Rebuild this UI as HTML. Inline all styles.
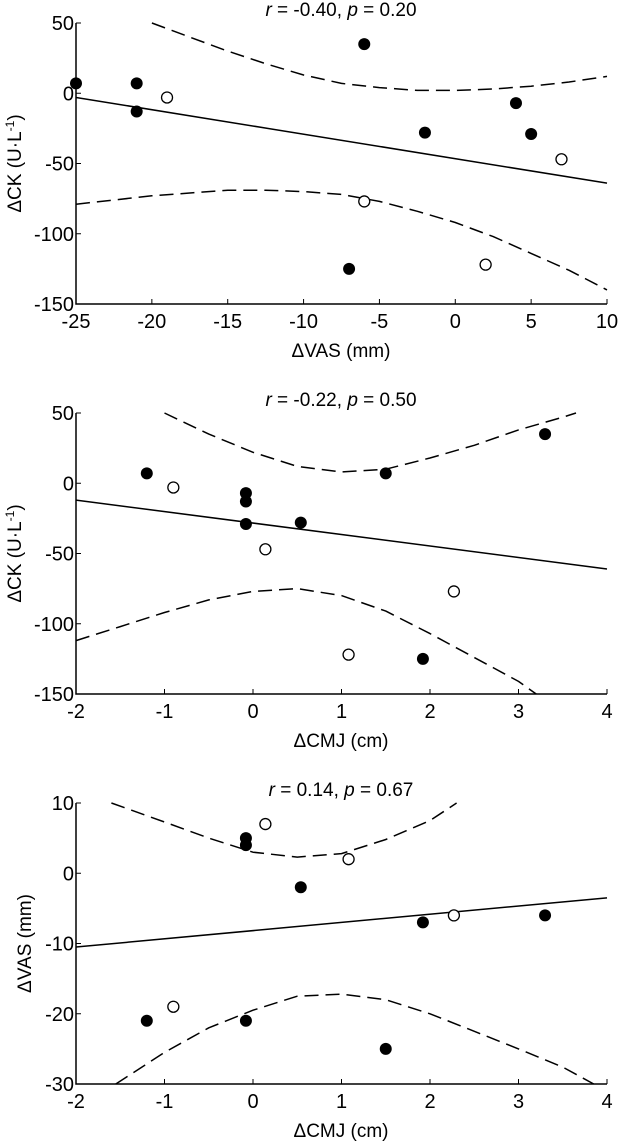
<!DOCTYPE html>
<html><head><meta charset="utf-8"><style>
body{margin:0;background:#fff;}
svg{display:block;font-family:"Liberation Sans",sans-serif;}
</style></head><body>
<svg id="fig" width="620" height="1144" viewBox="0 0 620 1144" xmlns="http://www.w3.org/2000/svg"></svg>
<script>
// Panel 1: dVAS vs dCK
const p1FilledX=[-25,-21,-21,-6,-2,4,5,-7];
const p1FilledY=[7,7,-13,35,-28,-7,-29,-125];
const p1OpenX=[-19,7,-6,2];
const p1OpenY=[-3,-47,-77,-122];
const p1FitX=[-25,10];
const p1FitY=[-3,-64];
const p1UpX=[-20,-17.5,-15,-12.5,-10,-7.5,-5,-2.5,0,2.5,5,7.5,10];
const p1UpY=[50,40,30,21,13,7,4,2,2,3,5,8,12];
const p1LoX=[-25,-22.5,-20,-17.5,-15,-12.5,-10,-7.5,-5,-2.5,0,2.5,5,7.5,10];
const p1LoY=[-79,-76,-73,-71,-69,-69,-70,-72,-77,-84,-92,-102,-114,-126,-140];
const p1XTicks=[-25,-20,-15,-10,-5,0,5,10];
const p1YTicks=[50,0,-50,-100,-150];
// Panel 2: dCMJ vs dCK
const p2FilledX=[-1.2,-0.08,-0.08,-0.08,0.54,1.5,3.3,1.92];
const p2FilledY=[7,-7,-13,-29,-28,7,35,-125];
const p2OpenX=[-0.9,0.14,2.27,1.08];
const p2OpenY=[-3,-47,-77,-122];
const p2FitX=[-2,4];
const p2FitY=[-12,-61];
const p2UpX=[-1,-0.5,0,0.5,1,1.5,2,2.5,3,3.5,3.65];
const p2UpY=[50,35,22,12,8,10,18,27,38,47,50];
const p2LoX=[-2,-1.5,-1,-0.5,0,0.5,1,1.5,2,2.5,3,3.2];
const p2LoY=[-112,-102,-92,-83,-77,-75,-80,-91,-107,-124,-141,-150];
const p2XTicks=[-2,-1,0,1,2,3,4];
const p2YTicks=[50,0,-50,-100,-150];
// Panel 3: dCMJ vs dVAS
const p3FilledX=[-1.2,-0.08,-0.08,-0.08,0.54,1.92,1.5,3.3];
const p3FilledY=[-21,5,4,-21,-2,-7,-25,-6];
const p3OpenX=[0.14,-0.9,1.08,2.27];
const p3OpenY=[7,-19,2,-6];
const p3FitX=[-2,4];
const p3FitY=[-10.5,-3.5];
const p3UpX=[-1.6,-1,-0.5,0,0.5,1,1.5,2,2.3];
const p3UpY=[10,7.3,5,3,2.3,2.8,4.8,7.5,10];
const p3LoX=[-1.55,-1,-0.5,0,0.5,1,1.5,2,2.5,3,3.5,3.85];
const p3LoY=[-30,-25.5,-22,-19.5,-17.5,-17.2,-18,-20,-22.5,-25,-27.6,-30];
const p3XTicks=[-2,-1,0,1,2,3,4];
const p3YTicks=[10,0,-10,-20,-30];

const NS="http://www.w3.org/2000/svg";
const svg=document.getElementById('fig');
function mk(tag,attrs,parent){const e=document.createElementNS(NS,tag);for(const k in attrs)e.setAttribute(k,attrs[k]);(parent||svg).appendChild(e);return e;}

function panel(o){
  const g=mk('g',{});
  
  
  const L=76,R=607,T=o.top,B=o.bottom;
  const sx=v=>L+(v-o.xmin)/(o.xmax-o.xmin)*(R-L);
  const sy=v=>B-(v-o.ymin)/(o.ymax-o.ymin)*(B-T);
  const ax=mk('path',{d:`M${L},${T} V${B} H${R}`,stroke:'#000','stroke-width':1.5,fill:'none'},g);
  
  
  o.xt.forEach(v=>{
    mk('line',{x1:sx(v),x2:sx(v),y1:B,y2:B-5,stroke:'#000','stroke-width':1},g);
    const t=mk('text',{x:sx(v),y:B+24,'font-size':20,'text-anchor':'middle'},g);
    t.textContent=v;
    
    
  });
  o.yt.forEach(v=>{
    mk('line',{x1:L,x2:L+5,y1:sy(v),y2:sy(v),stroke:'#000','stroke-width':1},g);
    const t=mk('text',{x:L-2,y:sy(v)+7,'font-size':20,'text-anchor':'end'},g);
    t.textContent=v;
    
    
  });
  const cid='c'+o.name;
  const cp=mk('clipPath',{id:cid},g);
  mk('rect',{x:L,y:T-2,width:R-L+2,height:B-T+2},cp);
  const inner=mk('g',{'clip-path':`url(#${cid})`},g);
  const fit=mk('line',{x1:sx(o.fitX[0]),y1:sy(o.fitY[0]),x2:sx(o.fitX[1]),y2:sy(o.fitY[1]),stroke:'#000','stroke-width':1.5},inner);
  
  
  [[o.upX,o.upY,'ci-upper'],[o.loX,o.loY,'ci-lower']].forEach(([xs,ys,n])=>{
    const d=xs.map((x,i)=>(i?'L':'M')+sx(x).toFixed(1)+','+sy(ys[i]).toFixed(1)).join(' ');
    const p=mk('path',{d:d,stroke:'#000','stroke-width':1.5,fill:'none','stroke-dasharray':'14,7','stroke-linejoin':'round'},g);
    
    
  });
  o.fx.forEach((x,i)=>{
    const c=mk('circle',{cx:sx(x),cy:sy(o.fy[i]),r:6,fill:'#000'},g);
    
    
  });
  o.ox.forEach((x,i)=>{
    const c=mk('circle',{cx:sx(x),cy:sy(o.oy[i]),r:5.5,fill:'#fff',stroke:'#000','stroke-width':1.3},g);
    
    
  });
  const tt=mk('text',{x:341,y:o.titleY,'font-size':19,'text-anchor':'middle'},g);
  tt.innerHTML=o.title;
  
  
  const xl=mk('text',{x:341,y:B+53,'font-size':19,'text-anchor':'middle'},g);
  xl.textContent=o.xlabel;
  
  
  const cy=(T+B)/2;
  const yl=mk('text',{x:0,y:0,'font-size':19,'text-anchor':'middle',transform:`translate(${o.ylx},${cy}) rotate(-90)`},g);
  yl.innerHTML=o.ylabel;
  
  
}
const ckLabel='ΔCK (U·L<tspan dy="-7" font-size="12">-1</tspan><tspan dy="7">)</tspan>';
panel({name:'panel-vas-ck',top:23,bottom:304,xmin:-25,xmax:10,ymin:-150,ymax:50,xt:p1XTicks,yt:p1YTicks,
  fx:p1FilledX,fy:p1FilledY,ox:p1OpenX,oy:p1OpenY,fitX:p1FitX,fitY:p1FitY,upX:p1UpX,upY:p1UpY,loX:p1LoX,loY:p1LoY,
  title:'<tspan font-style="italic">r</tspan> = -0.40, <tspan font-style="italic">p</tspan> = 0.20',titleY:16,xlabel:'ΔVAS (mm)',ylabel:ckLabel,ylx:21});
panel({name:'panel-cmj-ck',top:413,bottom:694,xmin:-2,xmax:4,ymin:-150,ymax:50,xt:p2XTicks,yt:p2YTicks,
  fx:p2FilledX,fy:p2FilledY,ox:p2OpenX,oy:p2OpenY,fitX:p2FitX,fitY:p2FitY,upX:p2UpX,upY:p2UpY,loX:p2LoX,loY:p2LoY,
  title:'<tspan font-style="italic">r</tspan> = -0.22, <tspan font-style="italic">p</tspan> = 0.50',titleY:406,xlabel:'ΔCMJ (cm)',ylabel:ckLabel,ylx:21});
panel({name:'panel-cmj-vas',top:803,bottom:1084,xmin:-2,xmax:4,ymin:-30,ymax:10,xt:p3XTicks,yt:p3YTicks,
  fx:p3FilledX,fy:p3FilledY,ox:p3OpenX,oy:p3OpenY,fitX:p3FitX,fitY:p3FitY,upX:p3UpX,upY:p3UpY,loX:p3LoX,loY:p3LoY,
  title:'<tspan font-style="italic">r</tspan> = 0.14, <tspan font-style="italic">p</tspan> = 0.67',titleY:796,xlabel:'ΔCMJ (cm)',ylabel:'ΔVAS (mm)',ylx:31});
</script>
</body></html>
